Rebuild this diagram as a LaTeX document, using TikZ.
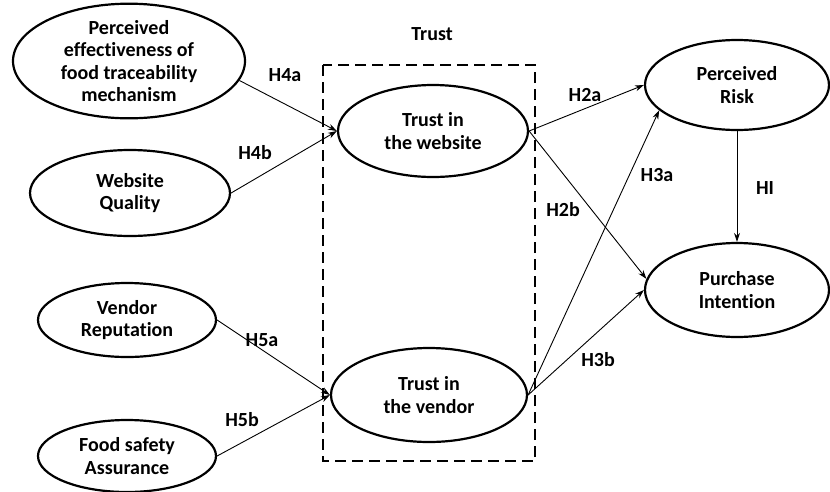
\documentclass[tikz,border=0pt]{standalone}
\usepackage{fontspec}
\setmainfont{Carlito}[Ligatures=NoCommon]
\usetikzlibrary{shapes.geometric,arrows.meta}
\begin{document}
\begin{tikzpicture}[x=1pt,y=-1pt,
  every node/.style={font=\bfseries\fontsize{20}{22.3}\selectfont, text=black},
  construct/.style={draw, ellipse, line width=2.2pt, inner sep=0pt, align=center},
  link/.style={draw, line width=0.9pt, -{Stealth[length=9pt,width=6pt]}},
  lbl/.style={inner sep=0pt},
  trustbox/.style={draw, line width=2pt, dash pattern=on 11pt off 6pt}]
\useasboundingbox (0,0) rectangle (830,491);
\node[construct, minimum width=232pt, minimum height=102pt] (pe) at (129,61) {Perceived\\effectiveness of\\food traceability\\mechanism};
\node[construct, minimum width=200pt, minimum height=86pt] (wq) at (130,193) {Website\\Quality};
\node[construct, minimum width=178pt, minimum height=74pt] (vr) at (127,320) {Vendor\\Reputation};
\node[construct, minimum width=178pt, minimum height=72pt] (fs) at (127,456) {Food safety\\Assurance};
\node[construct, minimum width=190pt, minimum height=92pt] (tw) at (433,131) {Trust in\\the website};
\node[construct, minimum width=196pt, minimum height=94pt] (tv) at (429,395) {Trust in\\the vendor};
\node[construct, minimum width=184pt, minimum height=90pt] (pr) at (737,85) {Perceived\\Risk};
\node[construct, minimum width=184pt, minimum height=94pt] (pi) at (737,290) {Purchase\\Intention};
\coordinate (boxtl) at (323,65);
\coordinate (boxbr) at (535,461);
\draw[trustbox] (boxtl) rectangle (boxbr);
\node[lbl] (trust) at (432,34) {Trust};
\draw[link] (pe.-10) -- (tw.west);
\draw[link] (wq.east) -- (tw.west);
\draw[link] (vr.east) -- (tv.west);
\draw[link] (fs.east) -- (tv.west);
\draw[link] (tw.east) -- (pr.west);
\draw[link] (tw.east) -- (pi.173);
\draw[link] (tv.east) -- (pr.-162);
\draw[link] (tv.east) -- (pi.west);
\draw[link] (pr.south) -- (pi.north);
\node[lbl] (h4a) at (285,75) {H4a};
\node[lbl] (h4b) at (255,153) {H4b};
\node[lbl] (h5a) at (262,340) {H5a};
\node[lbl] (h5b) at (242,420) {H5b};
\node[lbl] (h2a) at (585,95) {H2a};
\node[lbl] (h2b) at (563,210) {H2b};
\node[lbl] (h3a) at (657,175) {H3a};
\node[lbl] (h3b) at (598,360) {H3b};
\node[lbl] (hi) at (765,188) {HI};
\end{tikzpicture}
\end{document}
